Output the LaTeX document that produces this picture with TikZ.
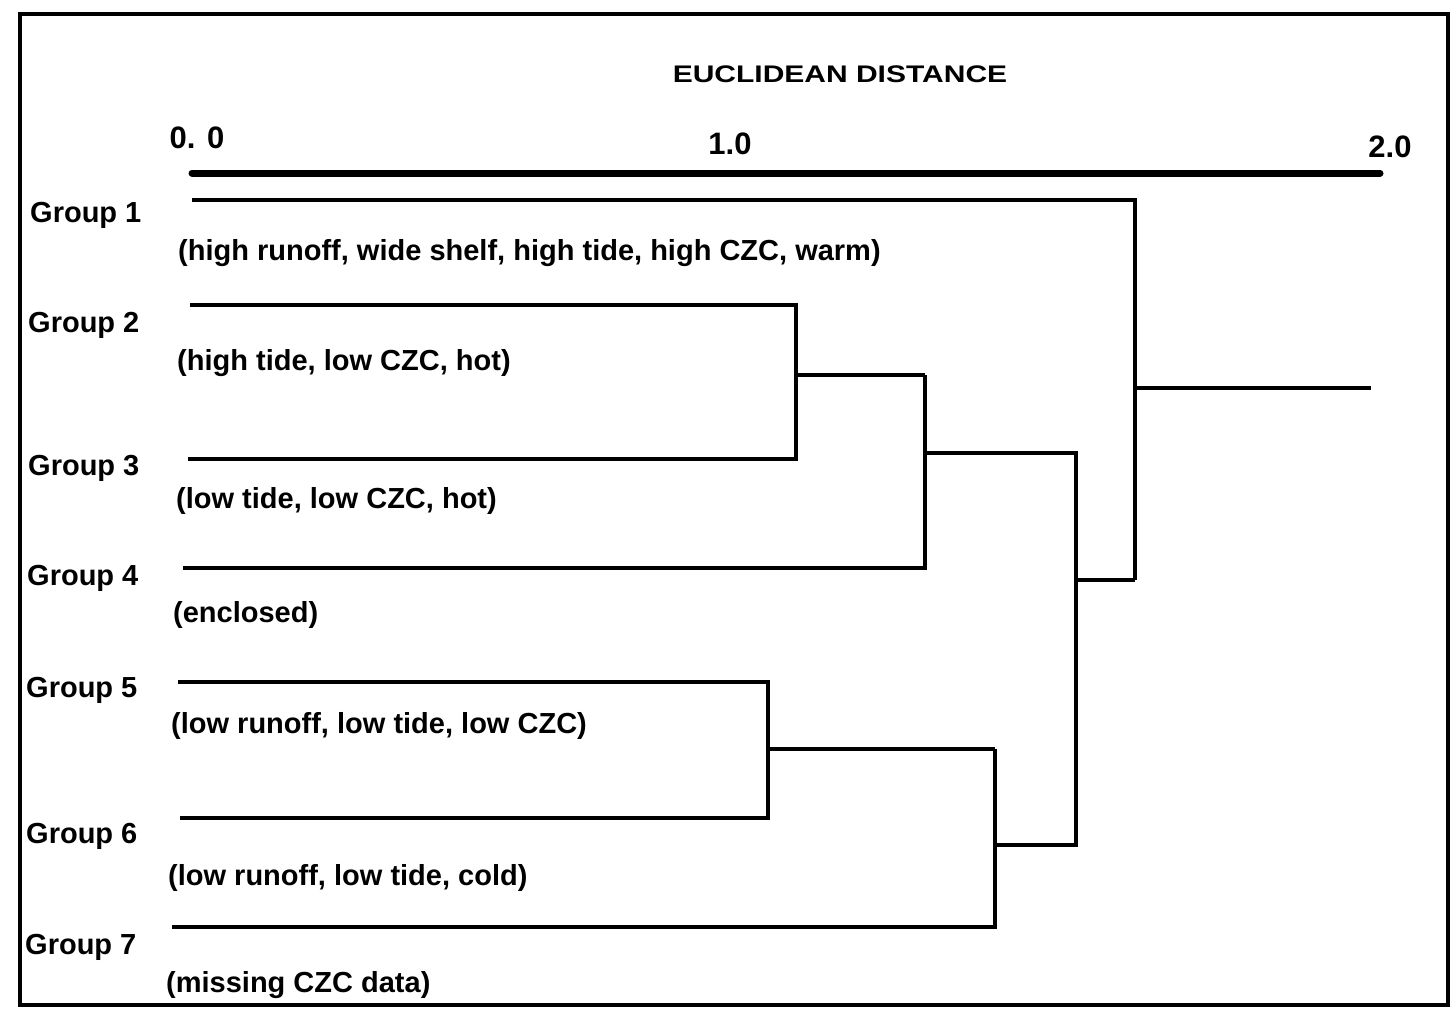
\documentclass[tikz,border=0pt]{standalone}
\usepackage{fontspec}
\setmainfont{Liberation Sans}
\begin{document}
\begin{tikzpicture}[x=1pt,y=-1pt,
  lbl/.style={font=\fontsize{29}{31}\selectfont\bfseries, anchor=base west, inner sep=0pt},
  desc/.style={font=\fontsize{29}{31}\selectfont\bfseries, anchor=base west, inner sep=0pt},
  ticklbl/.style={font=\fontsize{31}{33}\selectfont\bfseries, anchor=base, inner sep=0pt},
  link/.style={line width=4pt, line join=miter},
  axisline/.style={line width=7pt, line cap=round},
  frame/.style={line width=3.5pt}]
\useasboundingbox (0,0) rectangle (1452,1012);
\draw[frame] (20,14) rectangle (1448,1005);
% title and axis
\node[font=\fontsize{24}{26}\selectfont\bfseries, anchor=base, inner sep=0pt] (title) at (840,82) {\scalebox{1.25}[1]{EUCLIDEAN DISTANCE}};
\node[ticklbl] (t0) at (197,148) {0. 0};
\node[ticklbl] (t1) at (730,154) {1.0};
\node[ticklbl] (t2) at (1390,157) {2.0};
\coordinate (a0) at (192,173);
\coordinate (a2) at (1380,173);
\draw[axisline] (a0) -- (a2);
% group labels
\node[lbl] (g1) at (30,222) {Group 1};
\node[lbl] (g2) at (28,332) {Group 2};
\node[lbl] (g3) at (28,475) {Group 3};
\node[lbl] (g4) at (27,585) {Group 4};
\node[lbl] (g5) at (26,697) {Group 5};
\node[lbl] (g6) at (26,843) {Group 6};
\node[lbl] (g7) at (25,954) {Group 7};
\node[desc] (d1) at (178,260) {(high runoff, wide shelf, high tide, high CZC, warm)};
\node[desc] (d2) at (177,370) {(high tide, low CZC, hot)};
\node[desc] (d3) at (176,508) {(low tide, low CZC, hot)};
\node[desc] (d4) at (173,622) {(enclosed)};
\node[desc] (d5) at (171,733) {(low runoff, low tide, low CZC)};
\node[desc] (d6) at (168,885) {(low runoff, low tide, cold)};
\node[desc] (d7) at (166,992) {(missing CZC data)};
% leaves
\coordinate (l1) at (192,200);
\coordinate (l2) at (190,305);
\coordinate (l3) at (188,459);
\coordinate (l4) at (183,568);
\coordinate (l5) at (178,682);
\coordinate (l6) at (180,818);
\coordinate (l7) at (172,927);
% merges
\coordinate (m23) at (796,375);
\coordinate (m234) at (925,453);
\coordinate (m56) at (768,749);
\coordinate (m567) at (995,845);
\coordinate (mlow) at (1076,580);
\coordinate (mall) at (1135,388);
\coordinate (root) at (1371,388);
% dendrogram
\draw[link] (l2) -- (l2 -| m23) -- (l3 -| m23) -- (l3);
\draw[link] (m23) -- (m23 -| m234);
\draw[link] (m234 |- m23) -- (m234 |- l4) -- (l4);
\draw[link] (l5) -- (l5 -| m56) -- (l6 -| m56) -- (l6);
\draw[link] (m56) -- (m56 -| m567);
\draw[link] (m567 |- m56) -- (m567 |- l7) -- (l7);
\draw[link] (m234) -- (m234 -| mlow) -- (mlow |- m567) -- (m567);
\draw[link] (mlow) -- (mlow -| mall);
\draw[link] (l1) -- (l1 -| mall) -- (mall |- mlow);
\draw[link] (mall) -- (root);
\end{tikzpicture}
\end{document}
